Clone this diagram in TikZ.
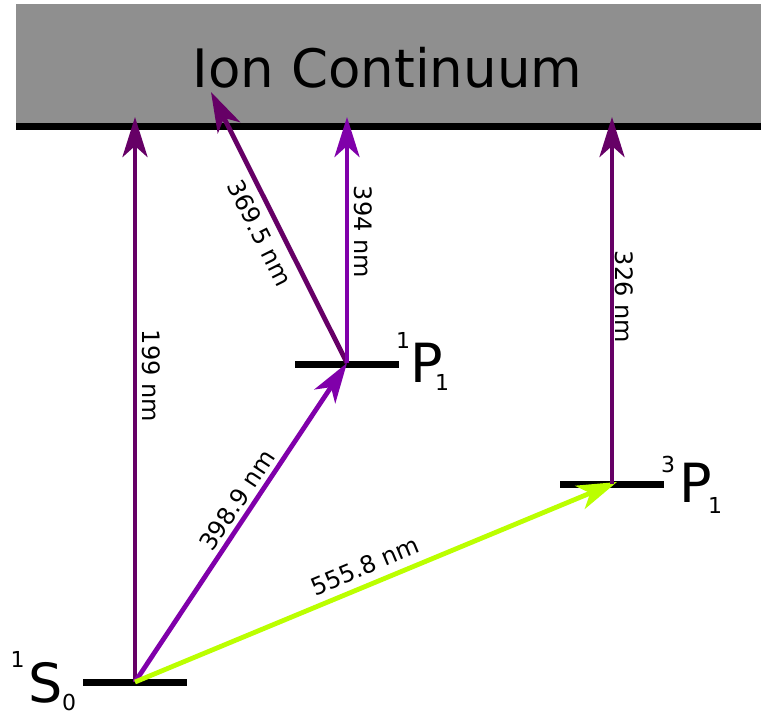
\documentclass[tikz,border=0pt]{standalone}
\usepackage{fontspec}
\setmainfont{DejaVu Sans}
\usetikzlibrary{arrows.meta}
\definecolor{dpurp}{HTML}{660066}
\definecolor{mpurp}{HTML}{8000AA}
\definecolor{lgreen}{HTML}{BBFF00}
\definecolor{contgray}{HTML}{8F8F8F}
\tikzset{
  trans/.style={line width=4.8pt, -{Stealth[length=40pt,width=25pt,inset=11pt]}},
  level/.style={fill=black, draw=none, minimum width=104pt, minimum height=7pt, inner sep=0pt},
  wl/.style={font=\fontsize{24}{28}\selectfont, inner sep=0pt},
  big/.style={font=\fontsize{54}{60}\selectfont, inner sep=0pt, anchor=base},
  small/.style={font=\fontsize{22}{26}\selectfont, inner sep=0pt, anchor=base}
}
\begin{document}
\begin{tikzpicture}[x=1pt,y=-1pt]
\useasboundingbox (0,0) rectangle (761,712);
% continuum
\fill[contgray] (16,4) rectangle (761,126);
\node[font=\fontsize{53}{60}\selectfont, inner sep=0pt, anchor=base] (cont) at (387.5,87) {Ion Continuum};
\draw[line width=7pt] (16,126.5) -- (761,126.5);
% levels
\node[level] (S0) at (135,682) {};
\node[level] (P1) at (346.5,364.5) {};
\node[level] (T1) at (612,484) {};
% top coordinates
\coordinate (c1) at (135,117);
\coordinate (c2) at (211,92);
\coordinate (c3) at (347,117);
\coordinate (c4) at (612,117);
\coordinate (P1in) at (347,363);
\coordinate (T1in) at (617,482);
% level labels
\node[big] (Slab) at (46,702) {S};
\node[small] (Ssup) at (17.5,667) {1};
\node[small] (Ssub) at (69,710) {0};
\node[big] (Plab) at (427,382) {P};
\node[small] (Psup) at (403,348) {1};
\node[small] (Psub) at (442,390) {1};
\node[big] (Tlab) at (696,502) {P};
\node[small] (Tsup) at (668,472) {3};
\node[small] (Tsub) at (715,513) {1};
% transitions
\draw[trans, dpurp] (S0.center) -- (c1);
\draw[trans, mpurp] (S0.center) -- (P1in);
\draw[trans, lgreen] (S0.center) -- (T1in);
\draw[trans, dpurp] (P1in) -- (c2);
\draw[trans, mpurp] (P1in) -- (c3);
\draw[trans, dpurp] (T1.center) -- (c4);
% wavelength labels
\node[wl, rotate=-90] (l199) at (151,376) {199 nm};
\node[wl, rotate=-90] (l394) at (363,232) {394 nm};
\node[wl, rotate=-90] (l326) at (624.5,297) {326 nm};
\node[wl, rotate=-63.4] (l369) at (260,233) {369.5 nm};
\node[wl, rotate=56.5] (l398) at (237,500) {398.9 nm};
\node[wl, rotate=22.6] (l555) at (365,566) {555.8 nm};
\end{tikzpicture}
\end{document}
